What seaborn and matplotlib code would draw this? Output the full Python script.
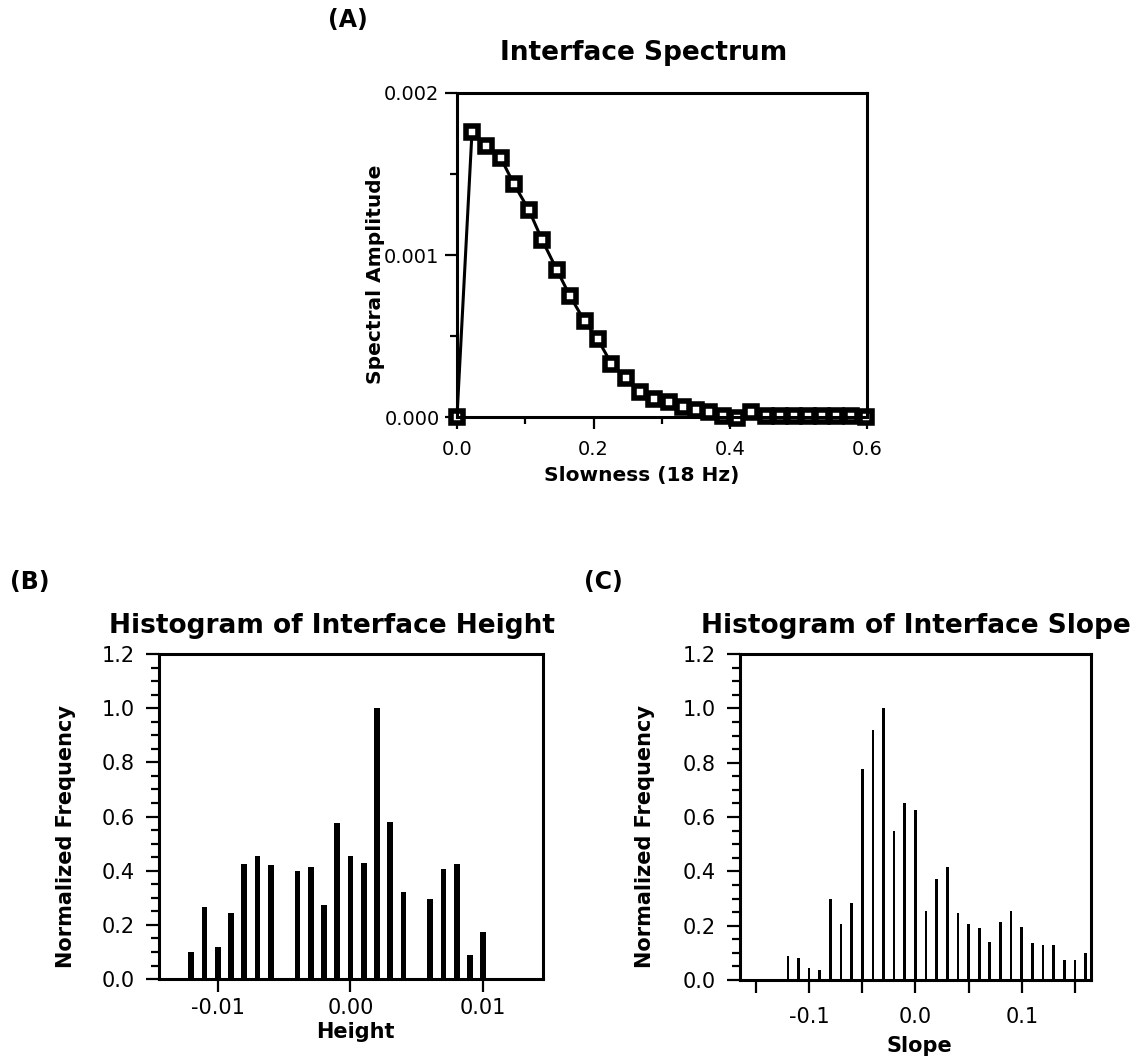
import matplotlib
matplotlib.use('Agg')
import matplotlib.pyplot as plt
import seaborn as sns
from matplotlib.ticker import MultipleLocator, FixedLocator

# (A) interface spectrum
slowness = [0.0, 0.022, 0.043, 0.064, 0.083, 0.105, 0.125, 0.146, 0.165, 0.187,
            0.206, 0.226, 0.248, 0.268, 0.288, 0.310, 0.331, 0.350, 0.369, 0.389,
            0.410, 0.430, 0.452, 0.473, 0.493, 0.514, 0.534, 0.554, 0.576, 0.598]
amplitude = [0.0, 0.00176, 0.00167, 0.00160, 0.00144, 0.00128, 0.00109, 0.00091, 0.00075, 0.00059,
             0.00048, 0.00033, 0.00024, 0.000154, 0.000111, 0.00009, 0.00006, 0.000045, 0.00003, 0.000005,
             -0.000005, 0.00003, 0.000005, 0.000005, 0.000005, 0.000005, 0.000005, 0.000005, 0.000005, 0.0]

# (B) histogram of interface height
height_bins = [-0.012, -0.011, -0.010, -0.009, -0.008, -0.007, -0.006, -0.004, -0.003, -0.002,
               -0.001, 0.000, 0.001, 0.002, 0.003, 0.004, 0.006, 0.007, 0.008, 0.009, 0.010]
height_freq = [0.10, 0.265, 0.12, 0.245, 0.425, 0.455, 0.42, 0.40, 0.415, 0.275,
               0.575, 0.455, 0.43, 1.0, 0.58, 0.32, 0.295, 0.405, 0.425, 0.09, 0.175]

# (C) histogram of interface slope
slope_bins = [-0.12, -0.11, -0.10, -0.09, -0.08, -0.07, -0.06, -0.05, -0.04, -0.03,
              -0.02, -0.01, 0.00, 0.01, 0.02, 0.03, 0.04, 0.05, 0.06, 0.07,
              0.08, 0.09, 0.10, 0.11, 0.12, 0.13, 0.14, 0.15, 0.16]
slope_freq = [0.09, 0.08, 0.045, 0.035, 0.30, 0.205, 0.285, 0.775, 0.92, 1.0,
              0.55, 0.65, 0.625, 0.255, 0.37, 0.415, 0.245, 0.205, 0.19, 0.14,
              0.215, 0.255, 0.195, 0.135, 0.13, 0.13, 0.075, 0.075, 0.10]

sns.set_style('ticks')
plt.rcParams['font.family'] = ['DejaVu Sans']
plt.rcParams['text.color'] = 'black'
plt.rcParams['axes.labelcolor'] = 'black'
plt.rcParams['axes.edgecolor'] = 'black'
plt.rcParams['xtick.color'] = 'black'
plt.rcParams['ytick.color'] = 'black'
plt.rcParams['axes.linewidth'] = 2.2
plt.rcParams['xtick.major.width'] = 1.6
plt.rcParams['ytick.major.width'] = 1.6
plt.rcParams['xtick.minor.width'] = 1.6
plt.rcParams['ytick.minor.width'] = 1.6

fig = plt.figure(figsize=(11.41, 10.59), dpi=100)

ax_a = fig.add_axes([0.4005, 0.6062, 0.3593, 0.306])
ax_b = fig.add_axes([0.1396, 0.0755, 0.3363, 0.3069])
ax_c = fig.add_axes([0.6486, 0.0746, 0.3074, 0.3078])

# ---- panel A
sns.lineplot(x=slowness, y=amplitude, ax=ax_a, color='black', lw=2.2,
             marker='s', markersize=8, markerfacecolor='white',
             markeredgecolor='black', markeredgewidth=4, clip_on=False)
ax_a.set_xlim(0, 0.6)
ax_a.set_ylim(0, 0.002)
ax_a.xaxis.set_major_locator(FixedLocator([0.0, 0.2, 0.4, 0.6]))
ax_a.xaxis.set_minor_locator(FixedLocator([0.1, 0.3, 0.5]))
ax_a.yaxis.set_major_locator(FixedLocator([0.0, 0.001, 0.002]))
ax_a.yaxis.set_minor_locator(FixedLocator([0.0005, 0.0015]))
ax_a.set_xticklabels(['0.0', '0.2', '0.4', '0.6'])
ax_a.set_yticklabels(['0.000', '0.001', '0.002'])
ax_a.tick_params(axis='both', which='major', length=8.5, labelsize=14)
ax_a.tick_params(axis='both', which='minor', length=5)
ax_a.tick_params(axis='x', which='major', pad=8)
ax_a.tick_params(axis='y', which='major', pad=4)
ax_a.set_title('Interface Spectrum', fontsize=19, fontweight='bold', pad=24, x=0.455)
ax_a.set_xlabel('Slowness (18 Hz)', fontsize=14.5, fontweight='bold')
ax_a.set_ylabel('Spectral Amplitude', fontsize=14.5, fontweight='bold')
ax_a.xaxis.set_label_coords(0.451, -0.15)
ax_a.yaxis.set_label_coords(-0.175, 0.44)

# ---- panels B and C
sns.barplot(x=height_bins, y=height_freq, ax=ax_b, native_scale=True, width=0.43,
            color='black', saturation=1, errorbar=None, linewidth=0)
sns.barplot(x=slope_bins, y=slope_freq, ax=ax_c, native_scale=True, width=0.25,
            color='black', saturation=1, errorbar=None, linewidth=0)

for ax in (ax_b, ax_c):
    ax.set_ylim(0, 1.2)
    ax.yaxis.set_major_locator(MultipleLocator(0.2))
    ax.yaxis.set_minor_locator(MultipleLocator(0.05))
    ax.set_yticklabels(['%.1f' % v for v in ax.get_yticks()])
    ax.set_ylim(0, 1.2)
    ax.tick_params(axis='y', which='major', length=9.5, labelsize=15, pad=8)
    ax.tick_params(axis='y', which='minor', length=5.5)
    ax.set_ylabel('Normalized Frequency', fontsize=15, fontweight='bold')

ax_b.set_xlim(-0.0144, 0.0145)
ax_b.xaxis.set_major_locator(FixedLocator([-0.01, 0.0, 0.01]))
ax_b.set_xticklabels(['-0.01', '0.00', '0.01'])
ax_b.tick_params(axis='x', which='major', length=9, labelsize=15, pad=5)
ax_b.set_title('Histogram of Interface Height', fontsize=19, fontweight='bold', pad=15, x=0.45)
ax_b.set_xlabel('Height', fontsize=15, fontweight='bold')
ax_b.xaxis.set_label_coords(0.51, -0.132)
ax_b.yaxis.set_label_coords(-0.217, 0.44)

ax_c.set_xlim(-0.165, 0.165)
ax_c.xaxis.set_major_locator(FixedLocator([-0.1, 0.0, 0.1]))
ax_c.xaxis.set_minor_locator(FixedLocator([-0.15, -0.05, 0.05, 0.15]))
ax_c.set_xticklabels(['-0.1', '0.0', '0.1'])
ax_c.tick_params(axis='x', which='both', length=9.5, labelsize=15)
ax_c.tick_params(axis='x', which='major', pad=10)
ax_c.set_title('Histogram of Interface Slope', fontsize=19, fontweight='bold', pad=15)
ax_c.set_xlabel('Slope', fontsize=15, fontweight='bold')
ax_c.xaxis.set_label_coords(0.51, -0.172)
ax_c.yaxis.set_label_coords(-0.242, 0.44)

# panel letters
fig.text(348 / 1141, 1 - 20 / 1059, '(A)', fontsize=17, fontweight='bold', ha='center', va='center')
fig.text(30 / 1141, 1 - 582 / 1059, '(B)', fontsize=17, fontweight='bold', ha='center', va='center')
fig.text(603 / 1141, 1 - 582 / 1059, '(C)', fontsize=17, fontweight='bold', ha='center', va='center')

fig.savefig('out.png', dpi=100, facecolor='white')
